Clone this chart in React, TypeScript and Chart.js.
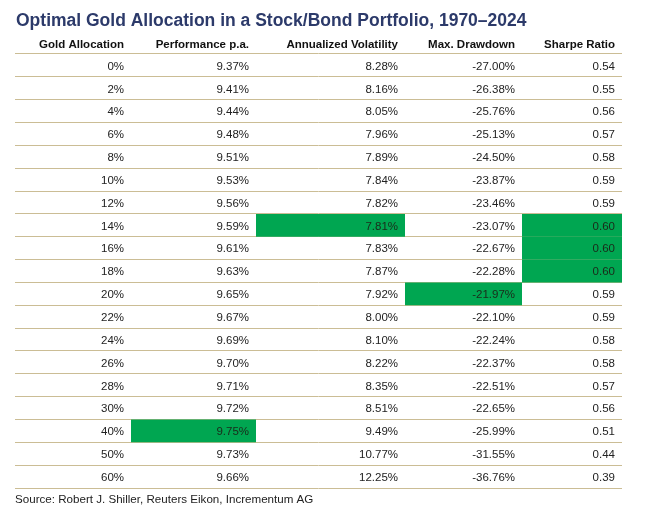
import { useEffect, useRef } from 'react';
import { Chart, registerables } from 'chart.js';

Chart.register(...registerables);

// ---- Data ----
const TITLE = 'Optimal Gold Allocation in a Stock/Bond Portfolio, 1970–2024';
const SOURCE = 'Source: Robert J. Shiller, Reuters Eikon, Incrementum AG';
const HEADERS = ['Gold Allocation', 'Performance p.a.', 'Annualized Volatility', 'Max. Drawdown', 'Sharpe Ratio'];
const ALLOCATIONS = ['0%', '2%', '4%', '6%', '8%', '10%', '12%', '14%', '16%', '18%', '20%', '22%', '24%', '26%', '28%', '30%', '40%', '50%', '60%'];
const PERFORMANCE = [9.37, 9.41, 9.44, 9.48, 9.51, 9.53, 9.56, 9.59, 9.61, 9.63, 9.65, 9.67, 9.69, 9.70, 9.71, 9.72, 9.75, 9.73, 9.66];
const VOLATILITY = [8.28, 8.16, 8.05, 7.96, 7.89, 7.84, 7.82, 7.81, 7.83, 7.87, 7.92, 8.00, 8.10, 8.22, 8.35, 8.51, 9.49, 10.77, 12.25];
const DRAWDOWN = [-27.00, -26.38, -25.76, -25.13, -24.50, -23.87, -23.46, -23.07, -22.67, -22.28, -21.97, -22.10, -22.24, -22.37, -22.51, -22.65, -25.99, -31.55, -36.76];
const SHARPE = [0.54, 0.55, 0.56, 0.57, 0.58, 0.59, 0.59, 0.60, 0.60, 0.60, 0.59, 0.59, 0.58, 0.58, 0.57, 0.56, 0.51, 0.44, 0.39];

// ---- Layout / style ----
const COL_EDGES = [15, 131, 256, 405, 522, 622];
const GREEN = '#00a651';
const LINE = '#cbbd95';
const FONT = '"Liberation Sans", Arial, Helvetica, sans-serif';

export default function App() {
  const ref = useRef<HTMLCanvasElement>(null);

  useEffect(() => {
    document.body.style.margin = '0';
    const canvas = ref.current;
    if (!canvas) return;

    const cellText: string[][] = [
      ALLOCATIONS,
      PERFORMANCE.map((v) => v.toFixed(2) + '%'),
      VOLATILITY.map((v) => v.toFixed(2) + '%'),
      DRAWDOWN.map((v) => v.toFixed(2) + '%'),
      SHARPE.map((v) => v.toFixed(2)),
    ];

    const bestPerf = Math.max(...PERFORMANCE);
    const bestVol = Math.min(...VOLATILITY);
    const bestDd = Math.max(...DRAWDOWN);
    const bestSharpe = Math.max(...SHARPE);
    const isBest: ((i: number) => boolean)[] = [
      () => false,
      (i) => PERFORMANCE[i] === bestPerf,
      (i) => VOLATILITY[i] === bestVol,
      (i) => DRAWDOWN[i] === bestDd,
      (i) => SHARPE[i] === bestSharpe,
    ];

    const datasets = [1, 2, 3, 4].map((c) => ({
      label: HEADERS[c],
      data: ALLOCATIONS.map((_, i) => (isBest[c](i) ? [COL_EDGES[c], COL_EDGES[c + 1]] : null)),
      backgroundColor: GREEN,
      borderWidth: 0,
      barPercentage: 1,
      categoryPercentage: 1,
      grouped: false,
      inflateAmount: 0,
    }));

    const textPlugin = {
      id: 'tableText',
      afterDraw(chart: any) {
        const ctx = chart.ctx as CanvasRenderingContext2D;
        const xs = chart.scales.x;
        const ys = chart.scales.y;
        const area = chart.chartArea;
        ctx.save();
        // title
        ctx.fillStyle = '#2c3a6a';
        ctx.font = `bold 17.5px ${FONT}`;
        ctx.textAlign = 'left';
        ctx.textBaseline = 'alphabetic';
        ctx.fillText(TITLE, 16, 26);
        // headers
        ctx.fillStyle = '#111111';
        ctx.font = `bold 11.5px ${FONT}`;
        ctx.textAlign = 'right';
        HEADERS.forEach((h, c) => {
          ctx.fillText(h, xs.getPixelForValue(COL_EDGES[c + 1]) - 7, area.top - 6);
        });
        // cells
        ctx.font = `11.5px ${FONT}`;
        ALLOCATIONS.forEach((_, i) => {
          const y = ys.getPixelForValue(i) + 4.3;
          cellText.forEach((col, c) => {
            ctx.fillStyle = isBest[c](i) ? '#1a2a1a' : '#222222';
            ctx.fillText(col[i], xs.getPixelForValue(COL_EDGES[c + 1]) - 7, y);
          });
        });
        // source
        ctx.textAlign = 'left';
        ctx.fillStyle = '#222222';
        ctx.font = `11.6px ${FONT}`;
        ctx.fillText(SOURCE, 15, 503);
        ctx.restore();
      },
    };

    const chart = new Chart(canvas, {
      type: 'bar',
      data: { labels: ALLOCATIONS, datasets: datasets as any },
      options: {
        indexAxis: 'y',
        animation: false,
        responsive: false,
        devicePixelRatio: 1,
        events: [],
        layout: { padding: { top: 54, bottom: 32, left: 15, right: 30 } },
        plugins: { legend: { display: false }, tooltip: { enabled: false }, title: { display: false } },
        scales: {
          x: { type: 'linear', min: COL_EDGES[0], max: COL_EDGES[COL_EDGES.length - 1], display: false },
          y: {
            type: 'category',
            offset: true,
            z: 1,
            grid: { offset: true, color: LINE, lineWidth: 1, drawTicks: false },
            ticks: { display: false },
            border: { display: false },
          },
        },
      } as any,
      plugins: [textPlugin],
    });

    return () => chart.destroy();
  }, []);

  return <canvas ref={ref} width={652} height={520} style={{ display: 'block' }} />;
}
